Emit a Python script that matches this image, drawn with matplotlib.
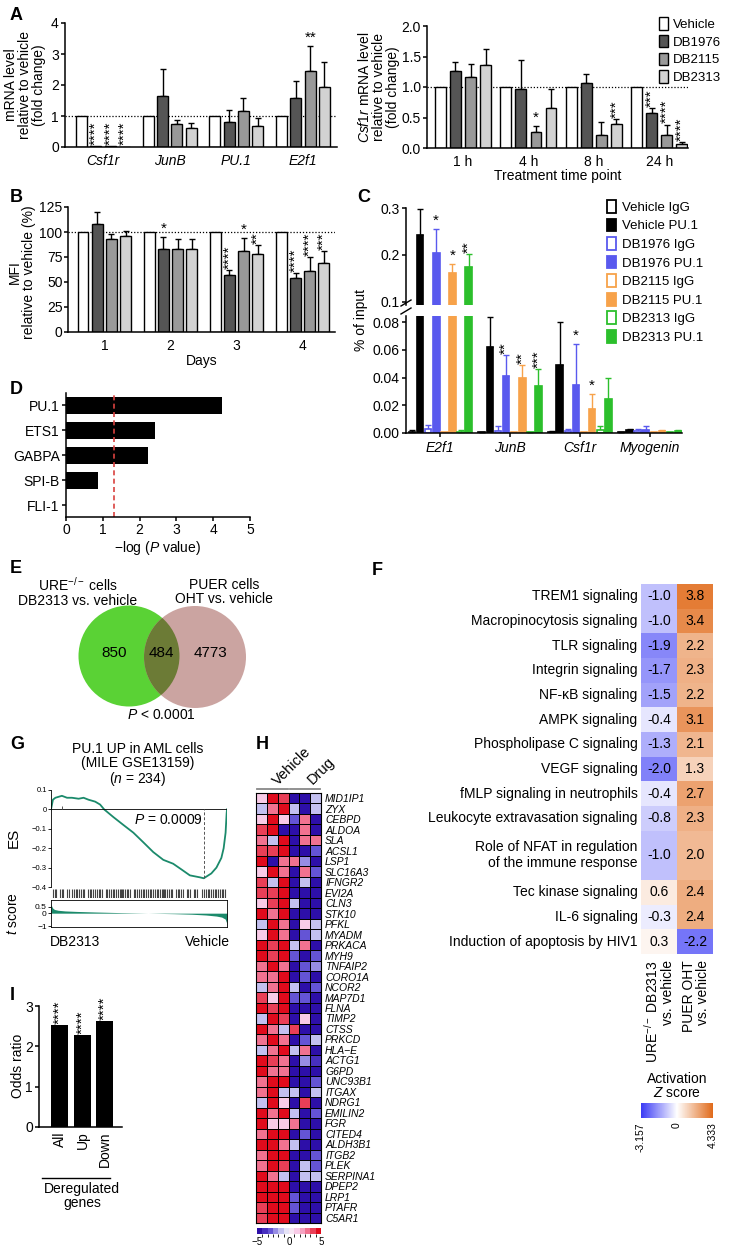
import numpy as np
import matplotlib
matplotlib.use('Agg')
import matplotlib.pyplot as plt
from matplotlib.patches import Circle, Patch
from matplotlib.colors import LinearSegmentedColormap, TwoSlopeNorm, BoundaryNorm
from matplotlib.cm import ScalarMappable

plt.rcParams['font.family'] = ['Liberation Sans', 'DejaVu Sans']
plt.rcParams['font.size'] = 10
plt.rcParams['mathtext.fontset'] = 'custom'
plt.rcParams['mathtext.rm'] = 'Liberation Sans'
plt.rcParams['mathtext.it'] = 'Liberation Sans:italic'
plt.rcParams['mathtext.bf'] = 'Liberation Sans:bold'
plt.rcParams['axes.linewidth'] = 1.1
for a in ('xtick', 'ytick'):
    plt.rcParams[a + '.major.width'] = 1.1
    plt.rcParams[a + '.major.size'] = 3
    plt.rcParams[a + '.major.pad'] = 1.5
    plt.rcParams[a + '.labelsize'] = 10

# ---------------- data ----------------
treatments = ['Vehicle', 'DB1976', 'DB2115', 'DB2313']

# A left
genes_a = ['Csf1r', 'JunB', 'PU.1', 'E2f1']
mrna_mean = [[1, 0.02, 0.02, 0.01], [1, 1.66, 0.74, 0.60], [1, 0.81, 1.16, 0.67], [1, 1.59, 2.44, 1.94]]
mrna_err = [[0, 0, 0, 0], [0, 0.85, 0.14, 0.17], [0, 0.38, 0.43, 0.28], [0, 0.55, 0.82, 0.80]]
mrna_stars = [['', '****', '****', '****'], ['', '', '', ''], ['', '', '', ''], ['', '', '**', '']]

# A right
timepoints = ['1 h', '4 h', '8 h', '24 h']
csf1r_mean = [[1, 1.26, 1.16, 1.36], [1, 0.96, 0.26, 0.66], [1, 1.06, 0.22, 0.39], [1, 0.58, 0.22, 0.07]]
csf1r_err = [[0, 0.15, 0.22, 0.26], [0, 0.48, 0.10, 0.30], [0, 0.15, 0.21, 0.08], [0, 0.07, 0.16, 0.03]]
csf1r_stars = [['', '', '', ''], ['', '', '*', ''], ['', '', '', '***'], ['', '***', '****', '****']]

# B
days = ['1', '2', '3', '4']
mfi_mean = [[100, 108, 93, 96], [100, 83, 83, 83], [100, 57, 81, 78], [100, 54, 61, 69]]
mfi_err = [[0, 12, 5, 4.5], [0, 11.5, 10, 10], [0, 5, 12.5, 9], [0, 5, 14, 12]]
mfi_stars = [['', '', '', ''], ['', '*', '', ''], ['', '****', '*', '**'], ['', '****', '****', '***']]

# C
chip_labels = ['Vehicle IgG', 'Vehicle PU.1', 'DB1976 IgG', 'DB1976 PU.1',
               'DB2115 IgG', 'DB2115 PU.1', 'DB2313 IgG', 'DB2313 PU.1']
chip_genes = ['E2f1', 'JunB', 'Csf1r', 'Myogenin']
chip_mean = [[0.001, 0.243, 0.003, 0.205, 0.0005, 0.161, 0.001, 0.175],
             [0.0005, 0.062, 0.0017, 0.041, 0.001, 0.0395, 0.0005, 0.034],
             [0.0007, 0.049, 0.0015, 0.035, 0.0005, 0.017, 0.0024, 0.0245],
             [0.0005, 0.0025, 0.0015, 0.002, 0.0005, 0.0015, 0.0005, 0.0015]]
chip_err = [[0.001, 0.055, 0.003, 0.05, 0, 0.02, 0.001, 0.027],
            [0.0003, 0.022, 0.0035, 0.015, 0, 0.0095, 0.0003, 0.012],
            [0.0005, 0.031, 0.0015, 0.029, 0, 0.011, 0.0026, 0.015],
            [0.0003, 0.0007, 0.0015, 0.003, 0, 0.0005, 0, 0.0007]]
chip_stars = [['', '', '', '*', '', '*', '', '**'],
              ['', '', '', '**', '', '**', '', '***'],
              ['', '', '', '*', '', '*', '', ''],
              ['', '', '', '', '', '', '', '']]

# D
motifs = ['PU.1', 'ETS1', 'GABPA', 'SPI-B', 'FLI-1']
motif_logp = [4.25, 2.42, 2.22, 0.88, 0.0]
p_cut = 0.05

# E
venn_counts = [850, 484, 4773]

# F
pathways = ['TREM1 signaling', 'Macropinocytosis signaling', 'TLR signaling', 'Integrin signaling',
            'NF-κB signaling', 'AMPK signaling', 'Phospholipase C signaling', 'VEGF signaling',
            'fMLP signaling in neutrophils', 'Leukocyte extravasation signaling',
            'Role of NFAT in regulation\nof the immune response', 'Tec kinase signaling',
            'IL-6 signaling', 'Induction of apoptosis by HIV1']
z_ure = [-1.0, -1.0, -1.9, -1.7, -1.5, -0.4, -1.3, -2.0, -0.4, -0.8, -1.0, 0.6, -0.3, 0.3]
z_puer = [3.8, 3.4, 2.2, 2.3, 2.2, 3.1, 2.1, 1.3, 2.7, 2.3, 2.0, 2.4, 2.4, -2.2]
z_min, z_max = -3.157, 4.333

# G
es_x = [0, 0.011, 0.025, 0.062, 0.091, 0.119, 0.157, 0.185, 0.213, 0.251, 0.279, 0.302, 0.355,
        0.411, 0.468, 0.525, 0.581, 0.638, 0.694, 0.742, 0.789, 0.845, 0.868, 0.911, 0.94,
        0.968, 0.981, 0.992, 0.998, 1.0]
es_y = [0, 0.05, 0.06, 0.07, 0.06, 0.06, 0.055, 0.06, 0.05, 0.04, 0.025, 0.0, -0.04,
        -0.08, -0.12, -0.17, -0.22, -0.26, -0.28, -0.31, -0.34, -0.35, -0.355, -0.33, -0.30,
        -0.25, -0.20, -0.12, -0.02, 0]
hits = [1, 2, 3, 5, 6, 7, 9, 10, 12, 13, 14, 15, 16, 17, 18, 19, 21, 22, 23, 24, 25, 26, 27, 28, 29,
        31, 32, 33, 34, 35, 36, 37, 38, 39, 40, 40.5, 41, 42, 43, 44, 45, 47, 48, 49, 50, 51, 52, 53,
        54, 55, 56, 57, 58, 59, 60, 61, 62, 63, 63.5, 64, 65, 66, 67, 68, 69, 71, 72, 73, 74, 75,
        77, 78, 79, 81, 82, 83, 86, 87, 88, 89, 90, 91, 92, 93, 94, 95, 96, 97, 98, 99]
t_x = [0, 0.005, 0.01, 0.02, 0.04, 0.08, 0.15, 0.25, 0.4, 0.55, 0.7, 0.8, 0.88, 0.94, 0.97, 0.99, 0.997, 1.0]
t_y = [0.68, 0.5, 0.38, 0.28, 0.22, 0.17, 0.13, 0.09, 0.04, 0.0, -0.04, -0.08, -0.14, -0.22, -0.3, -0.45, -0.7, -1.0]

# H
heat_genes = ['MID1IP1', 'ZYX', 'CEBPD', 'ALDOA', 'SLA', 'ACSL1', 'LSP1', 'SLC16A3', 'IFNGR2', 'EVI2A',
              'CLN3', 'STK10', 'PFKL', 'MYADM', 'PRKACA', 'MYH9', 'TNFAIP2', 'CORO1A', 'NCOR2', 'MAP7D1',
              'FLNA', 'TIMP2', 'CTSS', 'PRKCD', 'HLA\u2212E', 'ACTG1', 'G6PD', 'UNC93B1', 'ITGAX', 'NDRG1',
              'EMILIN2', 'FGR', 'CITED4', 'ALDH3B1', 'ITGB2', 'PLEK', 'SERPINA1', 'DPEP2', 'LRP1',
              'PTAFR', 'C5AR1']
heat_vals = [
    [1.5, 4.5, 4, -4.5, -4.5, -1.5], [-1.5, 3, 4.5, -1.5, -4.5, -1.5], [1.5, 4.5, 1.5, -3, 3, -4.5],
    [4, 4.5, -4.5, -4.5, 3, -4.5], [3, -1.5, 4.5, -4.5, 3, 3], [3.5, 4, 4.5, -4.5, -4.5, -3],
    [4.5, -4.5, 3, 3, -2, -4.5], [1.5, 4.5, 3, -4.5, 3, -3], [4, -1.5, 4.5, -4.5, -1.5, -4.5],
    [3.5, 3.5, 4.5, -5, -4.5, -4.5], [1.5, 4, 4.5, -1.5, -5, -4.5], [4.5, 3, 4.5, -4.5, -4.5, -4.5],
    [-1.5, 4.5, 3, -4.5, 1.5, -1.5], [1.5, 4.5, 3, -4.5, -3, -1.5], [4.5, 4, 4.5, -1.5, 3, -4.5],
    [4.5, 4, 4.5, -3, -4.5, -3], [3, 4.5, 3, -4.5, -3, -2], [3, 3, 4.5, -4.5, -3, -4.5],
    [-1.5, 3, 4.5, -1.5, -4.5, -3], [3.5, 1.5, 4.5, -3, -3, -4.5], [4.5, 4, 4.5, -5, -4.5, -4.5],
    [-1.5, 4.5, 4, -4.5, 1.5, -4.5], [4.5, 3, -1.5, 4, -4.5, -5], [3, 4.5, 3, -4.5, -3, -1.5],
    [-1.5, 3, 4.5, -1.5, 3, -4.5], [4.5, 4, 3, -4.5, -2.5, -4], [4.5, 3, 3, -5, -4.5, -5],
    [3, 4.5, 4.5, -5, -4.5, -3], [3, 4.5, -1.5, -1.5, -4.5, -1.5], [-1.5, 4.5, 1.5, -4.5, 4, -4.5],
    [4.5, 3, 4.5, -1.5, -4.5, -3], [4.5, 1.5, 1.5, 3, -4.5, -4.5], [3, 4.5, 4.5, -4.5, -3, -4.5],
    [4.5, 4.5, 3, -1.5, -4.5, -4.5], [3, 4.5, 4.5, -4.5, -4.5, -3], [2.5, 4.5, 4, -4.5, -1.5, -3],
    [4.5, 3, -1.5, -4.5, -1.5, -1.5], [4.5, 4.5, 4.5, -4.5, -4.5, -4.5], [4.5, 4.5, 4.5, -3, -4.5, -5],
    [4, 4.5, 4.5, -3, -4.5, -4.5], [4, 4.5, 4.5, -5, -4.5, -4.5]]
heat_groups = ['Vehicle', 'Drug']

# I
odds_groups = ['All', 'Up', 'Down']
odds_ratio = [2.52, 2.27, 2.62]
odds_stars = ['****', '****', '****']

# ---------------- figure ----------------
W, H = 729, 1248
fig = plt.figure(figsize=(W / 100, H / 100), dpi=100)


def px_axes(x0, y0, x1, y1, **kw):
    return fig.add_axes([x0 / W, 1 - y1 / H, (x1 - x0) / W, (y1 - y0) / H], **kw)


def clean(ax, keep=('left', 'bottom')):
    for s in ('left', 'right', 'top', 'bottom'):
        ax.spines[s].set_visible(s in keep)


def bar_groups(ax, means, errs, marks, pitch, width, faces, edges, ecols, rot_min=2, star_fs=11, lw=1.0):
    means = np.asarray(means, float)
    errs = np.asarray(errs, float)
    ng, nb = means.shape
    lo, hi = ax.get_ylim()
    for j in range(nb):
        xs = np.arange(ng) + (j - (nb - 1) / 2) * pitch
        ax.bar(xs, means[:, j], width, color=faces[j], edgecolor=edges[j], linewidth=lw, zorder=2)
        has = errs[:, j] > 0
        if has.any():
            ax.errorbar(xs[has], means[has, j], yerr=[np.zeros(has.sum()), errs[has, j]], fmt='none',
                        ecolor=ecols[j], elinewidth=1, capsize=2.5, capthick=1, zorder=1.5)
        for i in range(ng):
            s = marks[i][j]
            top = means[i, j] + errs[i, j]
            if s and lo <= top < hi:
                ax.annotate(s, (xs[i], top), xytext=(0, 1), textcoords='offset points',
                            rotation=90 if len(s) >= rot_min else 0, ha='center', va='bottom',
                            fontsize=star_fs, zorder=4)


greys = ['white', '#555555', '#999999', '#d2d2d2']

# ---- A left
axA1 = px_axes(65, 23, 337, 147)
axA1.set_ylim(0, 4)
axA1.set_xlim(-0.57, 3.51)
bar_groups(axA1, mrna_mean, mrna_err, mrna_stars, 0.215, 0.165, greys, ['k'] * 4, ['k'] * 4, rot_min=3)
axA1.axhline(1, color='k', ls=(0, (1, 1.5)), lw=0.9, zorder=1)
axA1.set_yticks(range(5))
axA1.set_xticks(range(4))
axA1.set_xticklabels(genes_a, style='italic')
axA1.tick_params(axis='x', length=0, pad=5)
clean(axA1)

# ---- A right
axA2 = px_axes(427, 26, 688, 148)
axA2.set_ylim(0, 2.0)
axA2.set_xlim(-0.55, 3.44)
bar_groups(axA2, csf1r_mean, csf1r_err, csf1r_stars, 0.23, 0.165, greys, ['k'] * 4, ['k'] * 4)
axA2.axhline(1, color='k', ls=(0, (1, 1.5)), lw=0.9, zorder=1)
axA2.set_yticks([0, 0.5, 1.0, 1.5, 2.0])
axA2.set_yticklabels(['0.0', '0.5', '1.0', '1.5', '2.0'])
axA2.set_xticks(range(4))
axA2.set_xticklabels(timepoints)
axA2.tick_params(axis='x', length=0, pad=5)
axA2.set_xlabel('Treatment time point', labelpad=0)
clean(axA2)
fig.legend(handles=[Patch(facecolor=c, edgecolor='k', lw=1) for c in greys], labels=treatments,
           loc='upper left', bbox_to_anchor=(659 / W, 1 - 17 / H), frameon=False, fontsize=9.5,
           handlelength=0.7, handleheight=1.1, handletextpad=0.35, labelspacing=0.3,
           borderaxespad=0, borderpad=0)

# ---- B
axB = px_axes(68, 207, 335, 332)
axB.set_ylim(0, 125)
axB.set_xlim(-0.55, 3.49)
bar_groups(axB, mfi_mean, mfi_err, mfi_stars, 0.215, 0.165, greys, ['k'] * 4, ['k'] * 4)
axB.axhline(100, color='k', ls=(0, (1, 1.5)), lw=0.9, zorder=1)
axB.set_yticks(range(0, 126, 25))
axB.tick_params(axis='y', pad=1)
axB.set_xticks(range(4))
axB.set_xticklabels(days)
axB.tick_params(axis='x', length=0, pad=5)
axB.set_xlabel('Days', labelpad=1)
clean(axB)

# ---- C (broken y axis)
chip_cols = ['#000000', '#5959ee', '#f7a24a', '#2cbf2c']
faces_c = [('white' if k % 2 == 0 else chip_cols[k // 2]) for k in range(8)]
edges_c = [chip_cols[k // 2] for k in range(8)]
axCu = px_axes(406, 208, 682, 305)
axCl = px_axes(406, 316, 682, 433)
axCu.set_ylim(0.093, 0.3)
axCl.set_ylim(0, 0.0845)
for ax in (axCu, axCl):
    ax.set_xlim(-0.49, 3.46)
    bar_groups(ax, chip_mean, chip_err, chip_stars, 0.116, 0.095, faces_c, edges_c, edges_c, lw=1.2)
axCu.set_yticks([0.1, 0.2, 0.3])
axCu.set_yticklabels(['0.1', '0.2', '0.3'])
axCu.set_xticks([])
clean(axCu, keep=('left',))
axCl.set_yticks([0, 0.02, 0.04, 0.06, 0.08])
axCl.set_yticklabels(['0.00', '0.02', '0.04', '0.06', '0.08'])
axCl.set_xticks(range(4))
axCl.set_xticklabels(chip_genes, style='italic')
axCl.tick_params(axis='x', length=3, pad=3)
clean(axCl)
fig.legend(handles=[Patch(facecolor=faces_c[k], edgecolor=edges_c[k], lw=1.3) for k in range(8)],
           labels=chip_labels, loc='upper left', bbox_to_anchor=(607 / W, 1 - 200 / H), frameon=False,
           fontsize=9.5, handlelength=0.7, handleheight=1.1, handletextpad=0.4, labelspacing=0.36,
           borderaxespad=0, borderpad=0)

# ---- D
axD = px_axes(66, 393, 250, 517)
ypos = np.arange(len(motifs))
axD.barh(ypos, motif_logp, 0.68, color='black')
axD.axvline(-np.log10(p_cut), color='#d9423f', ls=(0, (3, 2)), lw=1.2)
axD.set_xlim(0, 5)
axD.set_ylim(len(motifs) - 0.52, -0.5)
axD.set_yticks(ypos)
axD.set_yticklabels(motifs)
axD.set_xticks(range(6))
axD.set_xlabel('\u2212log ($P$ value)', labelpad=1)
clean(axD)

# ---- overlay for diagram parts and text
ov = fig.add_axes([0, 0, 1, 1], zorder=10)
ov.set_xlim(0, W)
ov.set_ylim(H, 0)
ov.axis('off')
ov.patch.set_visible(False)

# panel letters
for letter, (lx, ly) in {'A': (10, 7), 'B': (10, 189), 'C': (357, 189), 'D': (10, 381),
                         'E': (10, 560), 'F': (372, 562), 'G': (10, 736), 'H': (256, 736),
                         'I': (10, 987)}.items():
    ov.text(lx, ly, letter, fontsize=13, fontweight='bold', ha='left', va='top')

# y axis titles
ov.text(25, 85, 'mRNA level\nrelative to vehicle\n(fold change)', rotation=90, ha='center',
        va='center', linespacing=1.0)
ov.text(379, 87, '$\\mathit{Csf1r}$ mRNA level\nrelative to vehicle\n(fold change)', rotation=90,
        ha='center', va='center', linespacing=1.0)
ov.text(22, 272, 'MFI\nrelative to vehicle (%)', rotation=90, ha='center', va='center', linespacing=1.0)
ov.text(361, 320, '% of input', rotation=90, ha='center', va='center')
ov.text(18, 1066, 'Odds ratio', rotation=90, ha='center', va='center')
for yb in (303, 311):
    ov.plot([401, 411], [yb + 3, yb - 3], color='k', lw=1.0)

# ---- E venn
g_circ = Circle((129, 656), 50.5, facecolor='#5ad235', edgecolor='none')
p_circ = Circle((195, 657), 51, facecolor='#cba4a1', edgecolor='none')
o_circ = Circle((129, 656), 50.5, facecolor='#6c7b36', edgecolor='none')
ov.add_patch(g_circ)
ov.add_patch(p_circ)
ov.add_patch(o_circ)
o_circ.set_clip_path(p_circ)
ov.text(78, 592, 'URE$^{-/-}$ cells\nDB2313 vs. vehicle', ha='center', va='center', fontsize=10,
        linespacing=1.0)
ov.text(224, 592, 'PUER cells\nOHT vs. vehicle', ha='center', va='center', fontsize=10, linespacing=1.0)
for cx, n in zip([114, 161, 211], venn_counts):
    ov.text(cx, 653, str(n), ha='center', va='center', fontsize=11)
ov.text(161, 715, '$P$ < 0.0001', ha='center', va='center', fontsize=10)

# ---- F heatmap
cmap_f = LinearSegmentedColormap.from_list('zs', ['#3a3af5', '#ffffff', '#e06a1a'])
norm_f = TwoSlopeNorm(0, z_min, z_max)
row_h = [2 if '\n' in p else 1 for p in pathways]
y_edges = np.concatenate([[0], np.cumsum(row_h)])
y_mid = (y_edges[:-1] + y_edges[1:]) / 2
axF = px_axes(641, 584, 713, 954)
axF.pcolormesh([0, 1, 2], y_edges, np.column_stack([z_ure, z_puer]), cmap=cmap_f, norm=norm_f)
axF.set_xlim(0, 2)
axF.set_ylim(y_edges[-1], 0)
axF.axis('off')
for k, lab in enumerate(pathways):
    axF.text(-0.1, y_mid[k], lab, ha='right', va='center', multialignment='right', fontsize=10)
    axF.text(0.5, y_mid[k], f'{z_ure[k]:.1f}', ha='center', va='center', fontsize=10)
    axF.text(1.5, y_mid[k], f'{z_puer[k]:.1f}', ha='center', va='center', fontsize=10)
ov.text(659, 960, 'URE$^{-/-}$ DB2313\nvs. vehicle', rotation=90, ha='center', va='top',
        multialignment='right', fontsize=10, linespacing=1.0)
ov.text(696, 960, 'PUER OHT\nvs. vehicle', rotation=90, ha='center', va='top',
        multialignment='right', fontsize=10, linespacing=1.0)
ov.text(677, 1086, 'Activation\n$Z$ score', ha='center', va='center', fontsize=10, linespacing=1.0)
caxF = px_axes(641, 1103, 713, 1118)
cbF = fig.colorbar(ScalarMappable(norm=norm_f, cmap=cmap_f), cax=caxF, orientation='horizontal',
                   ticks=[z_min, 0, z_max])
cbF.outline.set_visible(False)
caxF.set_xticklabels([f'{z_min:.3f}', '0', f'{z_max:.3f}'], rotation=90, fontsize=7.5)
caxF.tick_params(length=0, pad=3)

# ---- G enrichment plot
teal = '#1b8a6b'
axG = px_axes(51, 790, 227, 887)
axG.plot(es_x, es_y, color=teal, lw=1.3)
axG.axhline(0, color='k', lw=0.6)
i_min = int(np.argmin(es_y))
axG.vlines(es_x[i_min], es_y[i_min], 0, color='#555555', ls=(0, (3, 2)), lw=0.7)
i_max = int(np.argmax(es_y))
axG.vlines(es_x[i_max], 0, 0.02, color='#555555', lw=0.7)
axG.set_xlim(0, 1)
axG.set_ylim(-0.4, 0.1)
axG.set_yticks([0.1, 0, -0.1, -0.2, -0.3, -0.4])
axG.set_yticklabels(['0.1', '0', '\u22120.1', '\u22120.2', '\u22120.3', '\u22120.4'])
axG.tick_params(axis='y', labelsize=5.5, length=2, width=0.6, pad=1)
axG.set_xticks([])
clean(axG, keep=('left',))
axG.spines['left'].set_linewidth(0.6)
axG.text(0.86, -0.055, '$P$ = 0.0009', ha='right', va='center', fontsize=10)

axR = px_axes(51, 889, 227, 898)
axR.vlines(np.array(hits) / 100, 0, 1, color='#444444', lw=0.8)
axR.set_xlim(0, 1)
axR.set_ylim(0, 1)
axR.axis('off')

axT = px_axes(51, 900, 227, 927)
axT.fill_between(t_x, t_y, 0, color=teal, lw=0)
axT.set_xlim(0, 1)
axT.set_ylim(-1.05, 1.0)
axT.set_yticks([0.5, 0, -1])
axT.set_yticklabels(['0.5', '0', '\u22121'])
axT.tick_params(axis='y', labelsize=6, length=2, width=0.6, pad=1)
axT.set_xticks([])
for s in axT.spines.values():
    s.set_linewidth(0.6)

ov.text(138, 765, 'PU.1 UP in AML cells\n(MILE GSE13159)\n($n$ = 234)', ha='center', va='center',
        fontsize=10, linespacing=1.0)
ov.text(14, 838, 'ES', rotation=90, ha='center', va='center', fontsize=11)
ov.text(13, 913, '$t$ score', rotation=90, ha='center', va='center', fontsize=10)
ov.text(50, 942, 'DB2313', ha='left', va='center', fontsize=10)
ov.text(230, 942, 'Vehicle', ha='right', va='center', fontsize=10)

# ---- H heatmap
cmap_h = LinearSegmentedColormap.from_list('h', ['#2d0fa8', '#5c4ad2', '#b8b4ee', '#f6f4fb',
                                                 '#f8c2e2', '#f06a88', '#e00b1c'], N=12)
norm_h = BoundaryNorm(np.linspace(-5, 5, 13), 12)
axH = px_axes(256, 793, 321, 1223)
axH.pcolormesh(np.array(heat_vals), cmap=cmap_h, norm=norm_h, edgecolors='k', linewidth=0.6)
axH.set_xlim(0, 6)
axH.set_ylim(len(heat_genes), 0)
axH.yaxis.tick_right()
axH.set_yticks(np.arange(len(heat_genes)) + 0.5)
axH.set_yticklabels(heat_genes, style='italic', fontsize=7.5)
axH.set_xticks([])
axH.tick_params(length=0, pad=3)
for s in axH.spines.values():
    s.set_linewidth(0.8)
ov.plot([257, 288], [789, 789], color='#888888', lw=1.3)
ov.plot([290, 320], [789, 789], color='#888888', lw=1.3)
ov.text(292, 766, heat_groups[0], rotation=45, ha='center', va='center', fontsize=10.5)
ov.text(321, 771, heat_groups[1], rotation=45, ha='center', va='center', fontsize=10.5)
caxH = px_axes(257, 1228, 321, 1234)
cbH = fig.colorbar(ScalarMappable(norm=norm_h, cmap=cmap_h), cax=caxH, orientation='horizontal',
                   ticks=[-5, 0, 5])
cbH.outline.set_visible(False)
caxH.tick_params(length=0, labelsize=7, pad=2)

# ---- I
axI = px_axes(39, 1006, 122, 1127)
axI.set_ylim(0, 3)
axI.set_xlim(-0.93, 2.76)
xi = np.arange(len(odds_groups))
axI.bar(xi, odds_ratio, 0.75, color='black')
for x, v, s in zip(xi, odds_ratio, odds_stars):
    axI.annotate(s, (x, v), xytext=(0, 1), textcoords='offset points', rotation=90,
                 ha='center', va='bottom', fontsize=11)
axI.set_yticks([0, 1, 2, 3])
axI.set_xticks(xi)
axI.set_xticklabels(odds_groups, rotation=90)
axI.tick_params(axis='x', length=0, pad=3)
clean(axI)
ov.plot([42, 110], [1178, 1178], color='k', lw=1)
ov.text(82, 1182, 'Deregulated\ngenes', ha='center', va='top', fontsize=10, linespacing=1.0)

fig.savefig('out.png', dpi=100)
